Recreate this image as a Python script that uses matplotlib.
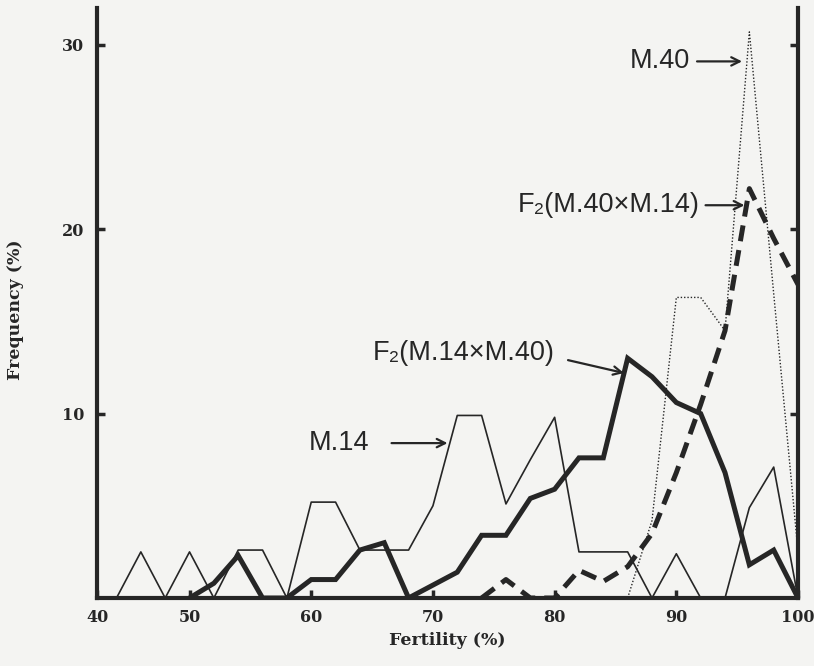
import matplotlib.pyplot as plt

# fertility classes (%), 2 % steps
fertility = [44, 46, 48, 50, 52, 54, 56, 58, 60, 62, 64, 66, 68, 70, 72,
             74, 76, 78, 80, 82, 84, 86, 88, 90, 92, 94, 96, 98, 100]

# frequency (%)
m14 = [0, 2.5, 0, 2.5, 0, 2.6, 2.6, 0, 5.2, 5.2, 2.6, 2.6, 2.6, 5.0, 9.9,
       9.9, 5.1, 7.5, 9.8, 2.5, 2.5, 2.5, 0, 2.4, 0, 0, 4.9, 7.1, 0]
m40 = [0, 0, 0, 0, 0, 0, 0, 0, 0, 0, 0, 0, 0, 0, 0,
       0, 0, 0, 0, 0, 0, 0, 4.2, 16.3, 16.3, 14.5, 30.7, 16.5, 2.5]
f2_14x40 = [0, 0, 0, 0, 0.8, 2.3, 0, 0, 1.0, 1.0, 2.6, 3.0, 0, 0.7, 1.4,
            3.4, 3.4, 5.4, 5.9, 7.6, 7.6, 13.0, 12.0, 10.6, 10.0, 6.8, 1.8, 2.6, 0]
f2_40x14 = [0, 0, 0, 0, 0, 0, 0, 0, 0, 0, 0, 0, 0, 0, 0,
            0, 1.0, 0, 0, 1.5, 0.9, 1.7, 3.5, 6.8, 10.5, 14.5, 22.2, 19.5, 17.0]

x_tick_pos = [42.4, 50, 60, 70, 80, 90, 100]
x_tick_labels = ["40", "50", "60", "70", "80", "90", "100"]
y_ticks = [10, 20, 30]

bg = "#f4f4f2"
ink = "#262626"
hand = ["Liberation Sans", "DejaVu Sans"]
serif = dict(family="DejaVu Serif", weight="bold", color=ink)


def trimmed(xs, ys):
    # skip the leading zeros that would lie on the baseline
    first = next(i for i, v in enumerate(ys) if v > 0)
    start = max(first - 1, 0)
    return xs[start:], ys[start:]


fig = plt.figure(figsize=(8.14, 6.66), dpi=100, facecolor=bg)
ax = fig.add_axes([0.1192, 0.1021, 0.8612, 0.886])
ax.set_facecolor(bg)

ax.plot(*trimmed(fertility, m14), color=ink, lw=1.2)
ax.plot(*trimmed(fertility, m40), color=ink, lw=1.0, ls=(0, (1, 1.4)))
ax.plot(*trimmed(fertility, f2_14x40), color=ink, lw=3.6, solid_joinstyle="miter")
ax.plot(*trimmed(fertility, f2_40x14), color=ink, lw=3.6, ls=(0, (3.2, 1.8)))

ax.set_xlim(x_tick_pos[0], 100)
ax.set_ylim(0, 32)
for side in ("left", "bottom", "right"):
    ax.spines[side].set_linewidth(3)
    ax.spines[side].set_color(ink)
ax.spines["top"].set_visible(False)

ax.set_xticks(x_tick_pos, x_tick_labels)
ax.set_yticks(y_ticks, [str(v) for v in y_ticks])
ax.tick_params(axis="both", direction="in", length=6, width=2.5, color=ink)
ax.tick_params(axis="y", right=True, pad=9)
ax.tick_params(axis="x", pad=8)
for lbl in ax.get_xticklabels() + ax.get_yticklabels():
    lbl.set(fontsize=11.5, **serif)

fig.text(0.549, 0.039, "Fertility (%)", ha="center", va="center", fontsize=12.5, **serif)
fig.text(0.019, 0.535, "Frequency (%)", ha="center", va="center", rotation=90,
         fontsize=12.5, **serif)

# label text (right edge), arrow tail, arrow tip
labels = [
    ("M.40", (91.1, 29.1), (91.7, 29.1), (95.4, 29.1)),
    ("F₂(M.40×M.14)", (91.9, 21.3), (92.4, 21.3), (95.6, 21.3)),
    ("F₂(M.14×M.40)", (80.0, 13.3), (81.1, 12.9), (85.7, 12.2)),
    ("M.14", (64.8, 8.4), (66.6, 8.4), (71.2, 8.4)),
]
for text, pos, tail, tip in labels:
    ax.text(*pos, text, ha="right", va="center", fontsize=19.5, family=hand, color=ink)
    ax.annotate("", xy=tip, xytext=tail,
                arrowprops=dict(arrowstyle="->,head_length=0.6,head_width=0.3",
                                lw=1.6, color=ink, shrinkA=0, shrinkB=0))

fig.savefig("out.png", dpi=100, facecolor=bg)
